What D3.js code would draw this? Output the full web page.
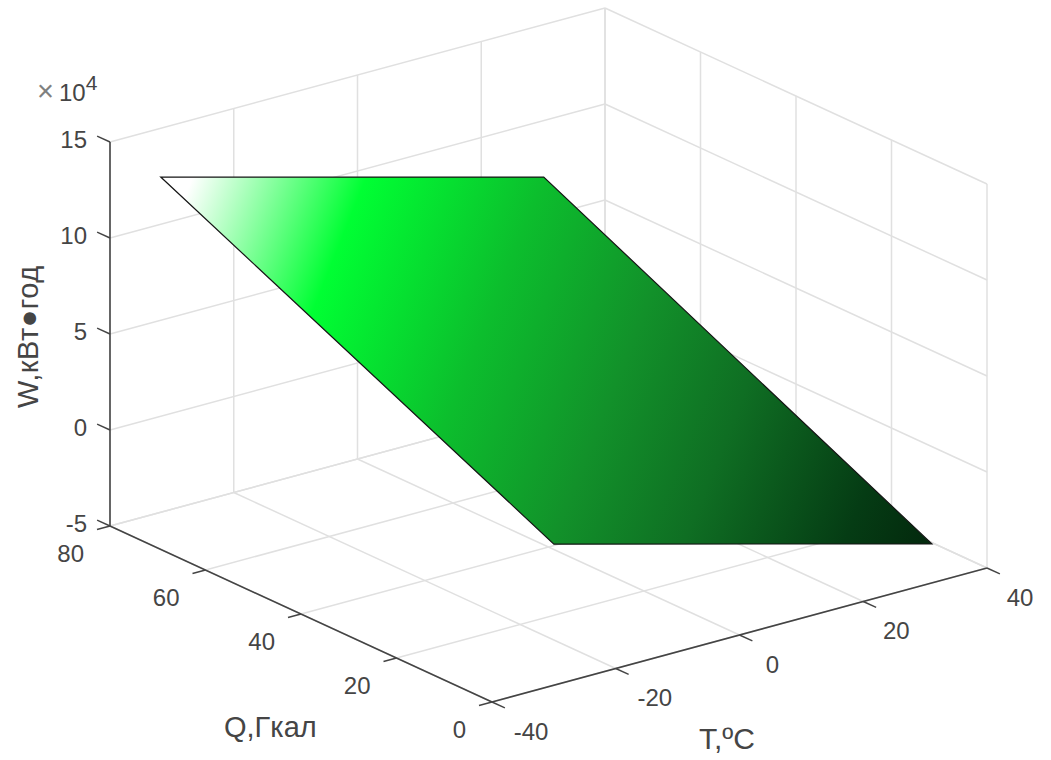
<!DOCTYPE html>
<html>
<head>
<meta charset="utf-8">
<script src="https://cdn.jsdelivr.net/npm/d3@7"></script>
<style>
  html, body { margin: 0; padding: 0; background: #fff; }
  text { font-family: "Liberation Sans", Arial, sans-serif; fill: #454545; font-size: 24px; }
</style>
</head>
<body>
<div id="chart"></div>
<script>
// tick labels
var tTicks = [-40, -20, 0, 20, 40];
var qTicks = [0, 20, 40, 60, 80];
var wTicks = [-5, 0, 5, 10, 15];   // x 10^4

// surface corners (W in units of 10^4)
var surfaceT = [-31.8, 30.1, 31.1, -30];
var surfaceQ = [80, 80, 0, 0];
var surfaceW = [12.46, 7.06, -2.97, 2.35];

// colormap along the surface
var colorStops = [0, 0.196, 0.396, 0.57, 0.72, 0.9, 1];
var colorValues = ["#ffffff", "#00ff33", "#0cbe2d", "#12912a", "#0f6e23", "#053c14", "#03280d"];

var width = 1051, height = 760;

var svg = d3.select("#chart")
  .append("svg")
  .attr("width", width)
  .attr("height", height);

// screen scales of the three axes, the box is an affine view
var tx = d3.scaleLinear().domain([-40, 40]).range([0, 495]);
var ty = d3.scaleLinear().domain([-40, 40]).range([0, -134]);
var qx = d3.scaleLinear().domain([0, 80]).range([0, -382]);
var qy = d3.scaleLinear().domain([0, 80]).range([0, -176]);
var wy = d3.scaleLinear().domain([-5, 15]).range([0, -384]);

function px(t, q) { return 492 + tx(t) + qx(q); }
function py(t, q, w) { return 702 + ty(t) + qy(q) + wy(w); }

function segment(g, a, b, color, sw) {
  g.append("line")
    .attr("x1", px(a[0], a[1])).attr("y1", py(a[0], a[1], a[2]))
    .attr("x2", px(b[0], b[1])).attr("y2", py(b[0], b[1], b[2]))
    .attr("stroke", color)
    .attr("stroke-width", sw);
}

// Grid on the floor and the two back walls
var grid = svg.append("g");
var gridColor = "#e0e0e0";

tTicks.forEach(function(t) {
  segment(grid, [t, 0, -5], [t, 80, -5], gridColor, 1.5);
  segment(grid, [t, 80, -5], [t, 80, 15], gridColor, 1.5);
});
qTicks.forEach(function(q) {
  segment(grid, [-40, q, -5], [40, q, -5], gridColor, 1.5);
  segment(grid, [40, q, -5], [40, q, 15], gridColor, 1.5);
});
wTicks.forEach(function(w) {
  segment(grid, [-40, 80, w], [40, 80, w], gridColor, 1.5);
  segment(grid, [40, 80, w], [40, 0, w], gridColor, 1.5);
});

// Surface, the shading runs from the top left corner to the lower right
var startX = px(surfaceT[0], surfaceQ[0]) + 32;
var startY = py(surfaceT[0], surfaceQ[0], surfaceW[0]);

var defs = svg.append("defs");
var grad = defs.append("linearGradient")
  .attr("id", "surfaceFill")
  .attr("gradientUnits", "userSpaceOnUse")
  .attr("x1", startX)
  .attr("y1", startY)
  .attr("x2", startX + 764)
  .attr("y2", startY + 306);

grad.selectAll("stop")
  .data(colorStops)
  .enter()
  .append("stop")
  .attr("offset", function(d) { return d; })
  .attr("stop-color", function(d, i) { return colorValues[i]; });

var surfacePath = d3.line()
  .x(function(d) { return px(d[0], d[1]); })
  .y(function(d) { return py(d[0], d[1], d[2]); })
  .curve(d3.curveLinearClosed);

svg.append("path")
  .attr("d", surfacePath(surfaceT.map(function(t, i) { return [t, surfaceQ[i], surfaceW[i]]; })))
  .attr("fill", "url(#surfaceFill)")
  .attr("stroke", "#151515")
  .attr("stroke-width", 1.2);

// Axes lines and ticks
var axes = svg.append("g");
var axisColor = "#444444";

segment(axes, [-40, 80, -5], [-40, 80, 15], axisColor, 1.6);
segment(axes, [-40, 80, -5], [-40, 0, -5], axisColor, 1.6);
segment(axes, [-40, 0, -5], [40, 0, -5], axisColor, 1.6);

wTicks.forEach(function(w) {
  segment(axes, [-40, 80, w], [-40, 82.7, w], axisColor, 1.4);
});
qTicks.forEach(function(q) {
  segment(axes, [-40, q, -5], [-42.1, q, -5], axisColor, 1.4);
});
tTicks.forEach(function(t) {
  segment(axes, [t, 0, -5], [t, -2.7, -5], axisColor, 1.4);
});

// Tick labels
svg.append("g").selectAll("text")
  .data(wTicks)
  .enter()
  .append("text")
  .attr("text-anchor", "end")
  .attr("x", 87)
  .attr("y", function(d) { return py(-40, 80, d) + 6; })
  .text(function(d) { return d; });

svg.append("g").selectAll("text")
  .data(qTicks)
  .enter()
  .append("text")
  .attr("text-anchor", "end")
  .attr("x", function(d) { return px(-40, d) - 26; })
  .attr("y", function(d) { return py(-40, d, -5) + 35.5; })
  .text(function(d) { return d; });

svg.append("g").selectAll("text")
  .data(tTicks)
  .enter()
  .append("text")
  .attr("text-anchor", "middle")
  .attr("x", function(d) { return px(d, 0) + (d < 0 ? 39 : 33); })
  .attr("y", function(d) { return py(d, 0, -5) + 37.5; })
  .text(function(d) { return d; });

// Axis titles
svg.append("text").attr("x", 224).attr("y", 737).style("font-size", "29px").text("Q,Гкал");
svg.append("text").attr("x", 699).attr("y", 749).style("font-size", "30px").text("T,ºC");
svg.append("text")
  .attr("transform", "translate(38,408) rotate(-90)")
  .style("font-size", "29px")
  .style("letter-spacing", "0.5px")
  .text("W,кВт●год");

// Exponent label
var expo = svg.append("text").attr("x", 37).attr("y", 101);
expo.append("tspan").style("font-size", "29px").style("fill", "#808080").text("×");
expo.append("tspan").attr("dx", 5).style("font-size", "24px").text("10");
expo.append("tspan").attr("dy", -11).style("font-size", "21px").text("4");
</script>
</body>
</html>
